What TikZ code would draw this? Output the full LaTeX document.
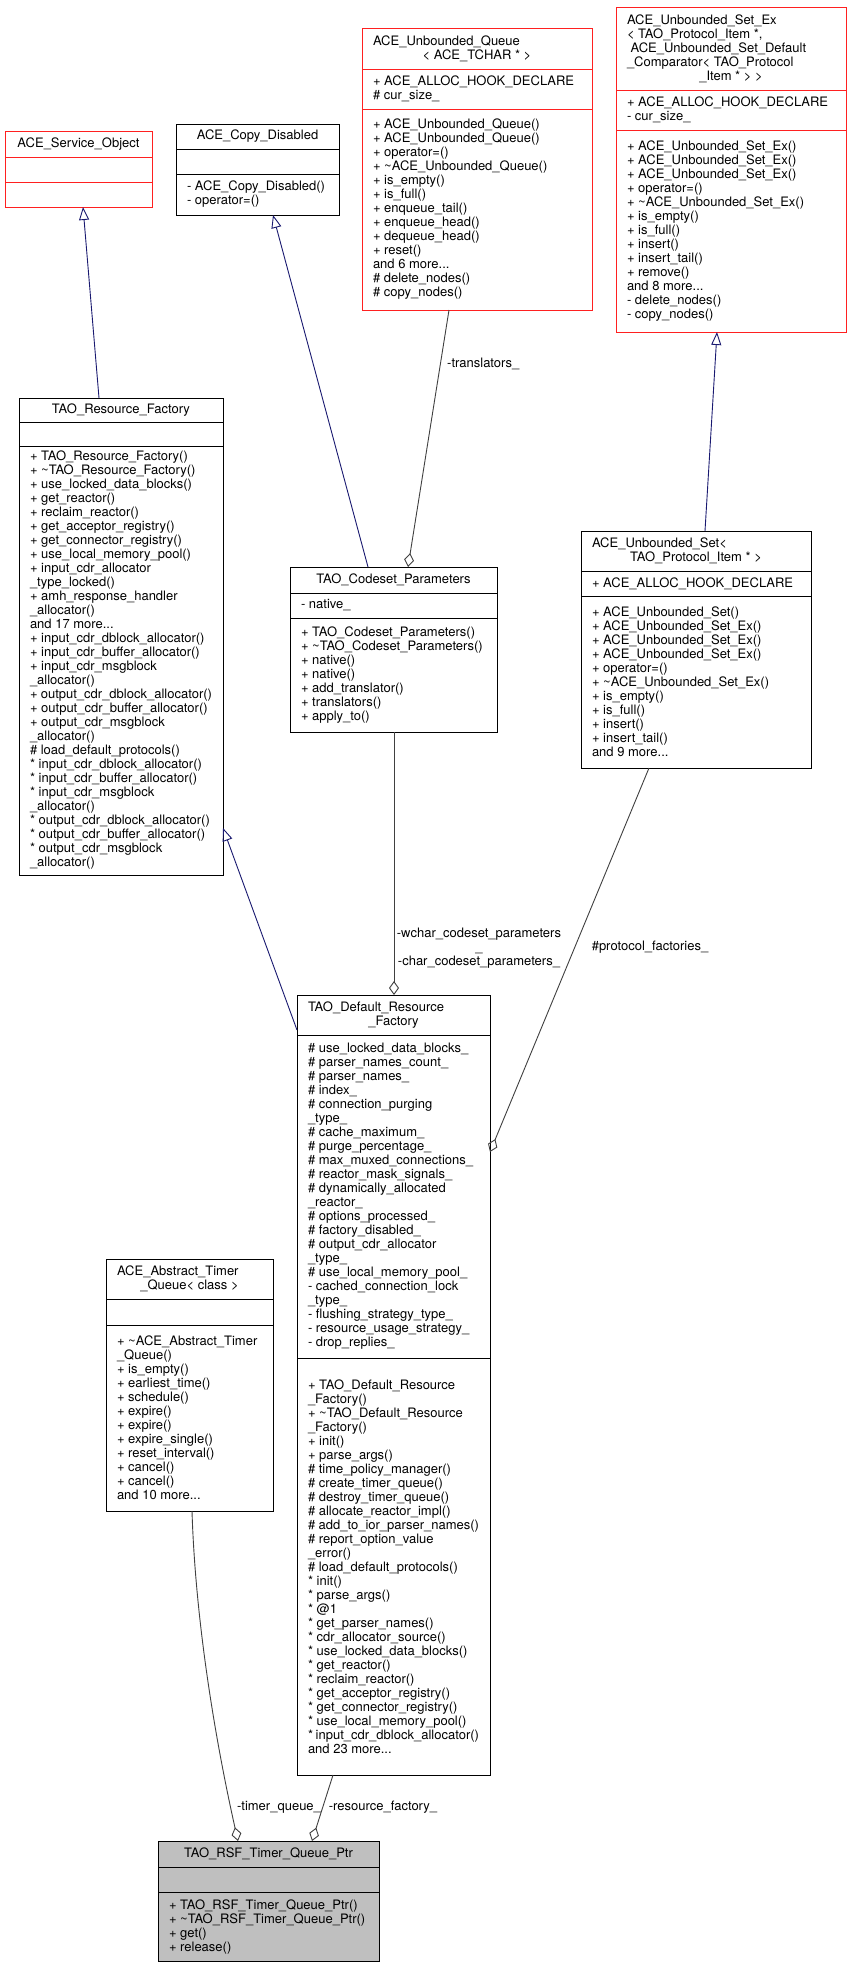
\documentclass[tikz,border=0pt]{standalone}
\usepackage{fontspec}
\setmainfont{TeX Gyre Heros}
\usepackage{tikz}
\usetikzlibrary{arrows.meta,positioning}
\definecolor{genblue}{HTML}{191970}
\definecolor{agggray}{HTML}{404040}
\definecolor{trunc}{HTML}{FF2020}
\definecolor{focus}{HTML}{BFBFBF}
\newcommand{\ctrline}[1]{\makebox[\linewidth]{#1}}

\begin{document}
\begin{tikzpicture}[x=1pt,y=-1pt,
  classbox/.style={draw, line width=0.9pt, outer sep=0pt, inner xsep=11pt, inner ysep=0pt, align=flush left, font=\fontsize{13}{14}\selectfont},
  lbl/.style={font=\fontsize{13}{14}\selectfont, align=center, inner sep=0pt},
  inh/.style={genblue, line width=0.9pt, -{Triangle[open,length=13pt,width=10pt]}},
  agg/.style={agggray, line width=0.9pt, -{Diamond[open,length=14pt,width=10pt]}}]
  \fill[white] (0,0) rectangle (851,1968);
  \useasboundingbox (0,0) rectangle (851,1968);

  % ACE_Service_Object
  \node[classbox, draw=trunc, anchor=north west, text width=125pt, minimum height=26pt] (so) at (5,131) {\ctrline{ACE\_Service\_Object}};
  \node[classbox, draw=trunc, text width=125pt, minimum height=25pt, below=0pt of so] (so-a) {};
  \node[classbox, draw=trunc, text width=125pt, minimum height=25pt, below=0pt of so-a] (so-o) {};

  % ACE_Copy_Disabled
  \node[classbox, anchor=north west, text width=141pt, minimum height=25pt] (cd) at (176,124) {\ctrline{ACE\_Copy\_Disabled}};
  \node[classbox, text width=141pt, minimum height=25pt, below=0pt of cd] (cd-a) {};
  \node[classbox, text width=141pt, minimum height=41pt, below=0pt of cd-a] (cd-o) {-~ACE\_Copy\_Disabled()\\-~operator=()};

  % ACE_Unbounded_Queue
  \node[classbox, draw=trunc, anchor=north west, text width=208pt, minimum height=41pt] (uq) at (362,28) {ACE\_Unbounded\_Queue\\\ctrline{< ACE\_TCHAR * >}};
  \node[classbox, draw=trunc, text width=208pt, minimum height=40pt, below=0pt of uq] (uq-a) {+~ACE\_ALLOC\_HOOK\_DECLARE\\\#~cur\_size\_};
  \node[classbox, draw=trunc, text width=208pt, minimum height=201pt, below=0pt of uq-a] (uq-o) {+~ACE\_Unbounded\_Queue()\\
    +~ACE\_Unbounded\_Queue()\\
    +~operator=()\\
    +~\textasciitilde ACE\_Unbounded\_Queue()\\
    +~is\_empty()\\
    +~is\_full()\\
    +~enqueue\_tail()\\
    +~enqueue\_head()\\
    +~dequeue\_head()\\
    +~reset()\\
    and 6 more...\\
    \#~delete\_nodes()\\
    \#~copy\_nodes()};

  % ACE_Unbounded_Set_Ex
  \node[classbox, draw=trunc, anchor=north west, text width=208pt, minimum height=83pt] (usx) at (616,7) {ACE\_Unbounded\_Set\_Ex\\
    <~TAO\_Protocol\_Item~*,\\
    \hspace*{3.6pt}ACE\_Unbounded\_Set\_Default\\
    \_Comparator<~TAO\_Protocol\\
    \ctrline{\_Item * > >}};
  \node[classbox, draw=trunc, text width=208pt, minimum height=40pt, below=0pt of usx] (usx-a) {+~ACE\_ALLOC\_HOOK\_DECLARE\\-~cur\_size\_};
  \node[classbox, draw=trunc, text width=208pt, minimum height=202pt, below=0pt of usx-a] (usx-o) {+~ACE\_Unbounded\_Set\_Ex()\\
    +~ACE\_Unbounded\_Set\_Ex()\\
    +~ACE\_Unbounded\_Set\_Ex()\\
    +~operator=()\\
    +~\textasciitilde ACE\_Unbounded\_Set\_Ex()\\
    +~is\_empty()\\
    +~is\_full()\\
    +~insert()\\
    +~insert\_tail()\\
    +~remove()\\
    and 8 more...\\
    -~delete\_nodes()\\
    -~copy\_nodes()};

  % TAO_Resource_Factory
  \node[classbox, anchor=north west, text width=182pt, minimum height=24pt] (rf) at (19,398) {\ctrline{TAO\_Resource\_Factory}};
  \node[classbox, text width=182pt, minimum height=24pt, below=0pt of rf] (rf-a) {};
  \node[classbox, text width=182pt, minimum height=429pt, below=0pt of rf-a] (rf-o) {+~TAO\_Resource\_Factory()\\
    +~\textasciitilde TAO\_Resource\_Factory()\\
    +~use\_locked\_data\_blocks()\\
    +~get\_reactor()\\
    +~reclaim\_reactor()\\
    +~get\_acceptor\_registry()\\
    +~get\_connector\_registry()\\
    +~use\_local\_memory\_pool()\\
    +~input\_cdr\_allocator\\
    \_type\_locked()\\
    +~amh\_response\_handler\\
    \_allocator()\\
    and 17 more...\\
    +~input\_cdr\_dblock\_allocator()\\
    +~input\_cdr\_buffer\_allocator()\\
    +~input\_cdr\_msgblock\\
    \_allocator()\\
    +~output\_cdr\_dblock\_allocator()\\
    +~output\_cdr\_buffer\_allocator()\\
    +~output\_cdr\_msgblock\\
    \_allocator()\\
    \#~load\_default\_protocols()\\
    {}*~input\_cdr\_dblock\_allocator()\\
    {}*~input\_cdr\_buffer\_allocator()\\
    {}*~input\_cdr\_msgblock\\
    \_allocator()\\
    {}*~output\_cdr\_dblock\_allocator()\\
    {}*~output\_cdr\_buffer\_allocator()\\
    {}*~output\_cdr\_msgblock\\
    \_allocator()};

  % TAO_Codeset_Parameters
  \node[classbox, anchor=north west, text width=185pt, minimum height=26pt] (cp) at (290,567) {\ctrline{TAO\_Codeset\_Parameters}};
  \node[classbox, text width=185pt, minimum height=25pt, below=0pt of cp] (cp-a) {-~native\_};
  \node[classbox, text width=185pt, minimum height=114pt, below=0pt of cp-a] (cp-o) {+~TAO\_Codeset\_Parameters()\\
    +~\textasciitilde TAO\_Codeset\_Parameters()\\
    +~native()\\
    +~native()\\
    +~add\_translator()\\
    +~translators()\\
    +~apply\_to()};

  % ACE_Unbounded_Set
  \node[classbox, anchor=north west, text width=208pt, minimum height=40pt] (us) at (581,531) {ACE\_Unbounded\_Set<\\\ctrline{TAO\_Protocol\_Item * >}};
  \node[classbox, text width=208pt, minimum height=25pt, below=0pt of us] (us-a) {+~ACE\_ALLOC\_HOOK\_DECLARE};
  \node[classbox, text width=208pt, minimum height=172pt, below=0pt of us-a] (us-o) {+~ACE\_Unbounded\_Set()\\
    +~ACE\_Unbounded\_Set\_Ex()\\
    +~ACE\_Unbounded\_Set\_Ex()\\
    +~ACE\_Unbounded\_Set\_Ex()\\
    +~operator=()\\
    +~\textasciitilde ACE\_Unbounded\_Set\_Ex()\\
    +~is\_empty()\\
    +~is\_full()\\
    +~insert()\\
    +~insert\_tail()\\
    and 9 more...};

  % TAO_Default_Resource_Factory
  \node[classbox, anchor=north west, text width=171pt, minimum height=40pt] (drf) at (297,995) {TAO\_Default\_Resource\\\ctrline{\_Factory}};
  \node[classbox, text width=171pt, minimum height=323pt, below=0pt of drf] (drf-a) {\#~use\_locked\_data\_blocks\_\\
    \#~parser\_names\_count\_\\
    \#~parser\_names\_\\
    \#~index\_\\
    \#~connection\_purging\\
    \_type\_\\
    \#~cache\_maximum\_\\
    \#~purge\_percentage\_\\
    \#~max\_muxed\_connections\_\\
    \#~reactor\_mask\_signals\_\\
    \#~dynamically\_allocated\\
    \_reactor\_\\
    \#~options\_processed\_\\
    \#~factory\_disabled\_\\
    \#~output\_cdr\_allocator\\
    \_type\_\\
    \#~use\_local\_memory\_pool\_\\
    -~cached\_connection\_lock\\
    \_type\_\\
    -~flushing\_strategy\_type\_\\
    -~resource\_usage\_strategy\_\\
    -~drop\_replies\_};
  \node[classbox, text width=171pt, minimum height=417pt, below=0pt of drf-a] (drf-o) {+~TAO\_Default\_Resource\\
    \_Factory()\\
    +~\textasciitilde TAO\_Default\_Resource\\
    \_Factory()\\
    +~init()\\
    +~parse\_args()\\
    \#~time\_policy\_manager()\\
    \#~create\_timer\_queue()\\
    \#~destroy\_timer\_queue()\\
    \#~allocate\_reactor\_impl()\\
    \#~add\_to\_ior\_parser\_names()\\
    \#~report\_option\_value\\
    \_error()\\
    \#~load\_default\_protocols()\\
    {}*~init()\\
    {}*~parse\_args()\\
    {}*~@1\\
    {}*~get\_parser\_names()\\
    {}*~cdr\_allocator\_source()\\
    {}*~use\_locked\_data\_blocks()\\
    {}*~get\_reactor()\\
    {}*~reclaim\_reactor()\\
    {}*~get\_acceptor\_registry()\\
    {}*~get\_connector\_registry()\\
    {}*~use\_local\_memory\_pool()\\
    {}*~input\_cdr\_dblock\_allocator()\\
    and 23 more...};

  % ACE_Abstract_Timer_Queue
  \node[classbox, anchor=north west, text width=145pt, minimum height=40pt] (atq) at (106,1259) {ACE\_Abstract\_Timer\\\ctrline{\_Queue< class >}};
  \node[classbox, text width=145pt, minimum height=26pt, below=0pt of atq] (atq-a) {};
  \node[classbox, text width=145pt, minimum height=186pt, below=0pt of atq-a] (atq-o) {+~\textasciitilde ACE\_Abstract\_Timer\\
    \_Queue()\\
    +~is\_empty()\\
    +~earliest\_time()\\
    +~schedule()\\
    +~expire()\\
    +~expire()\\
    +~expire\_single()\\
    +~reset\_interval()\\
    +~cancel()\\
    +~cancel()\\
    and 10 more...};

  % TAO_RSF_Timer_Queue_Ptr
  \node[classbox, fill=focus, anchor=north west, text width=199pt, minimum height=26pt] (rsf) at (158,1841) {\ctrline{TAO\_RSF\_Timer\_Queue\_Ptr}};
  \node[classbox, fill=focus, text width=199pt, minimum height=25pt, below=0pt of rsf] (rsf-a) {};
  \node[classbox, fill=focus, text width=199pt, minimum height=69pt, below=0pt of rsf-a] (rsf-o) {+~TAO\_RSF\_Timer\_Queue\_Ptr()\\
    +~\textasciitilde TAO\_RSF\_Timer\_Queue\_Ptr()\\
    +~get()\\
    +~release()};

  % inheritance
  \draw[inh] ([xshift=80pt]rf.north west) -- ([xshift=78pt]so-o.south west);
  \draw[inh] ([xshift=78pt]cp.north west) -- ([xshift=97pt]cd-o.south west);
  \draw[inh] ([xshift=124pt]us.north west) -- ([xshift=101pt]usx-o.south west);
  \draw[inh] ([yshift=-35pt]drf.north west) -- ([yshift=47pt]rf-o.south east);

  % usage
  \draw[agg] ([xshift=87pt]uq-o.south west) -- ([xshift=118pt]cp.north west);
  \draw[agg] ([xshift=104pt]cp-o.south west) -- ([xshift=97pt]drf.north west);
  \draw[agg] ([xshift=68pt]us-o.south west) -- ([yshift=-117pt]drf-a.north east);
  \draw[agg] ([xshift=86pt]atq-o.south west) .. controls (196,1640) and (222,1770) .. ([xshift=80pt]rsf.north west);
  \draw[agg] ([xshift=36pt]drf-o.south west) -- ([xshift=154pt]rsf.north west);

  \node[lbl, anchor=west] (l-trans) at (447,364) {-translators\_};
  \node[lbl] (l-cs) at (479,948) {-wchar\_codeset\_parameters\\\_\\-char\_codeset\_parameters\_};
  \node[lbl] (l-pf) at (650,947) {\#protocol\_factories\_};
  \node[lbl] (l-tq) at (279,1807) {-timer\_queue\_};
  \node[lbl] (l-rsf) at (383,1807) {-resource\_factory\_};
\end{tikzpicture}
\end{document}
